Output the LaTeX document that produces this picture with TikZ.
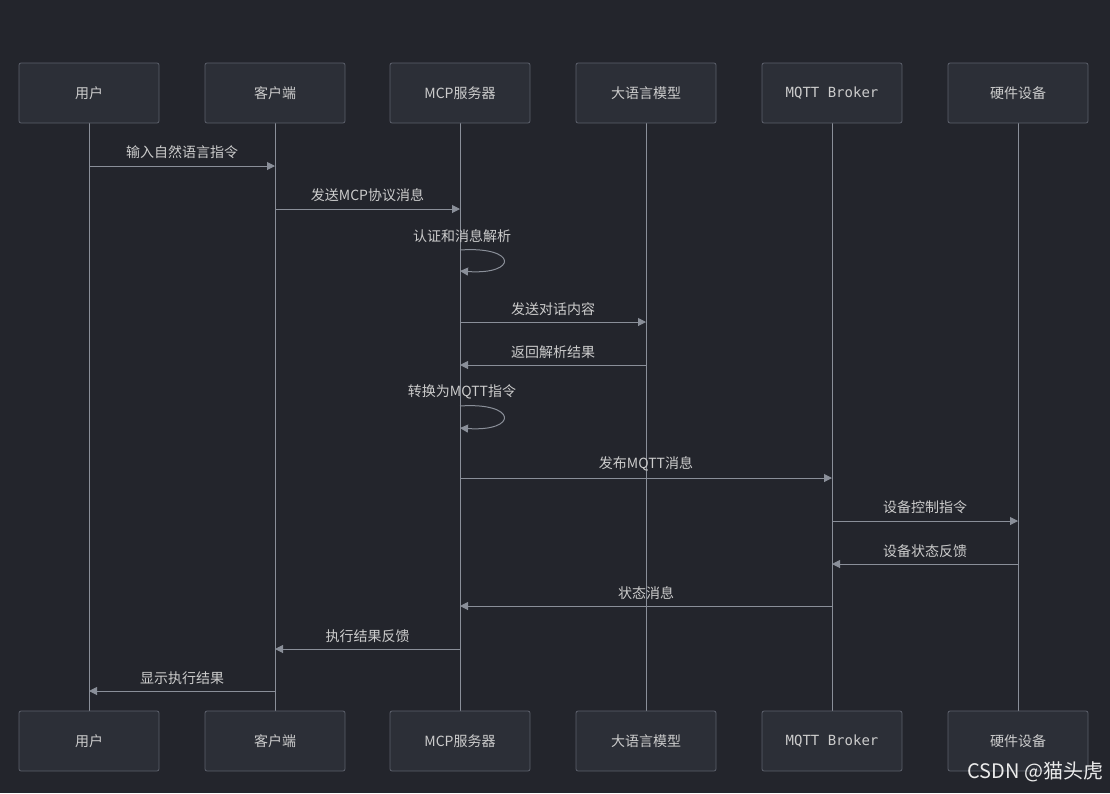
\documentclass[tikz,border=0pt]{standalone}
\usepackage{fontspec}
\newfontfamily\cjk{Noto Sans CJK SC}
\newfontfamily\monof{DejaVu Sans Mono}
\usetikzlibrary{arrows.meta}
\definecolor{bg}{HTML}{23252C}
\definecolor{boxfill}{HTML}{2C2F37}
\definecolor{boxline}{HTML}{5C606B}
\definecolor{txt}{HTML}{CCCCCC}
\definecolor{ln}{HTML}{8A8F99}
\begin{document}
\begin{tikzpicture}[x=1pt,y=-1pt,
  actor/.style={draw=boxline,fill=boxfill,rounded corners=2pt,minimum width=140pt,minimum height=60pt,text=txt,font=\cjk\fontsize{14}{16}\selectfont,line width=0.8pt},
  msg/.style={draw=ln,line width=1pt,-{Triangle[length=8pt,width=8pt]}},
  lab/.style={text=txt,font=\cjk\fontsize{14}{16}\selectfont}]
\fill[bg] (0,0) rectangle (1110,793);
\useasboundingbox (0,0) rectangle (1110,793);
\foreach \n/\x/\t in {a/89/用户,b/275/客户端,c/460/MCP服务器,d/646/大语言模型,e/832/{\monof\fontsize{14}{16}\selectfont MQTT Broker},f/1018/硬件设备}{
  \draw[ln,line width=1pt] (\x,123) -- (\x,711);
  \node[actor] (\n t) at (\x,93) {\t};
  \node[actor] (\n b) at (\x,741) {\t};
}
\foreach \n/\x in {a/89,b/275,c/460,d/646,e/832,f/1018}{
  \foreach \y in {166,209,250,271,322,365,406,428,478,521,564,606,649,691}{\coordinate (\n\y) at (\x,\y);}
}
\draw[msg] (a166) -- node[lab,above=3pt] {输入自然语言指令} (b166);
\draw[msg] (b209) -- node[lab,above=3pt] {发送MCP协议消息} (c209);
\node[lab] (l1) at (462,236) {认证和消息解析};
\draw[msg] (c250) .. controls (518,246) and (518,275) .. (c271);
\draw[msg] (c322) -- node[lab,above=3pt] {发送对话内容} (d322);
\draw[msg] (d365) -- node[lab,above=3pt] {返回解析结果} (c365);
\node[lab] (l2) at (462,392) {转换为MQTT指令};
\draw[msg] (c406) .. controls (518,402) and (518,432) .. (c428);
\draw[msg] (c478) -- node[lab,above=3pt] {发布MQTT消息} (e478);
\draw[msg] (e521) -- node[lab,above=3pt] {设备控制指令} (f521);
\draw[msg] (f564) -- node[lab,above=3pt] {设备状态反馈} (e564);
\draw[msg] (e606) -- node[lab,above=3pt] {状态消息} (c606);
\draw[msg] (c649) -- node[lab,above=3pt] {执行结果反馈} (b649);
\draw[msg] (b691) -- node[lab,above=3pt] {显示执行结果} (a691);
\node[text=white!92!black,font=\cjk\fontsize{20}{22}\selectfont,anchor=east] (wm) at (1107,772) {CSDN @猫头虎};
\end{tikzpicture}
\end{document}
